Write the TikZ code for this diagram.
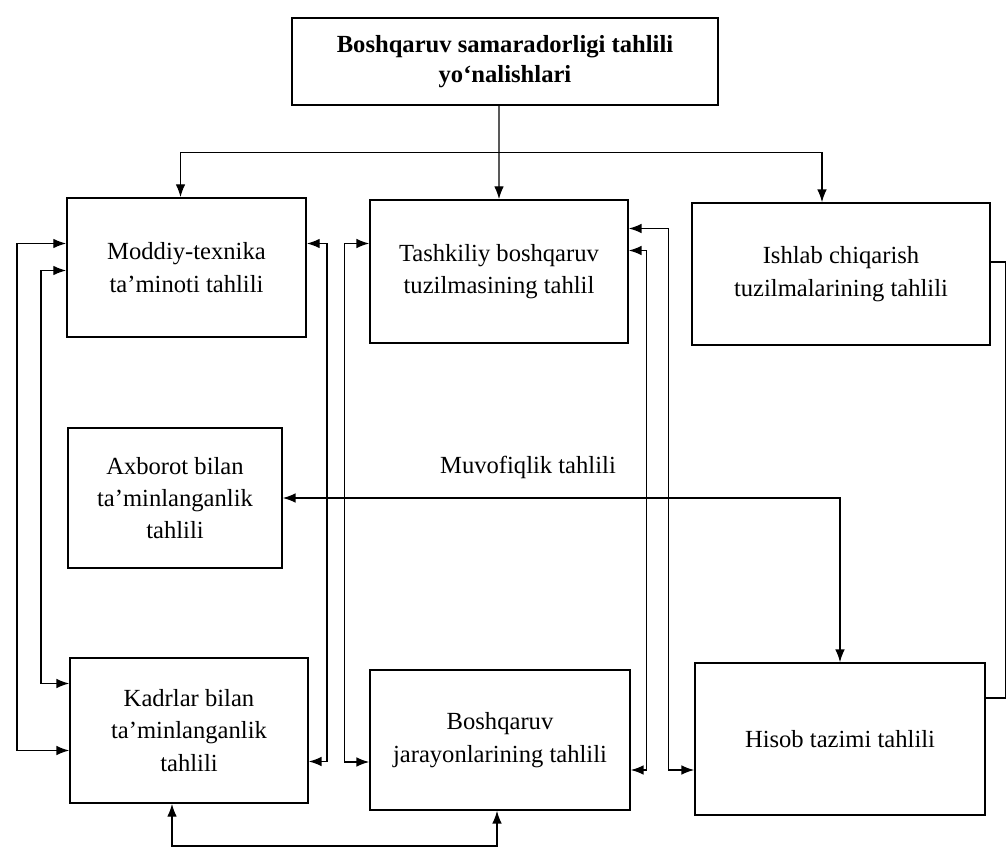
\documentclass[tikz,border=0pt]{standalone}
\usepackage{fontspec}
\setmainfont{Liberation Serif}
\usetikzlibrary{arrows.meta,positioning,calc}
\tikzset{
  tahlilbox/.style={draw, line width=1.1pt, align=center, inner sep=4pt, font=\fontsize{17.5}{23}\selectfont},
  tahlillabel/.style={font=\fontsize{17.5}{23}\selectfont},
  tahlilarrow/.style={-{Latex[length=3.2mm,width=2.4mm]}, line width=0.9pt},
  tahlildbl/.style={{Latex[length=3.2mm,width=2.4mm]}-{Latex[length=3.2mm,width=2.4mm]}, line width=0.9pt},
  tahlilline/.style={line width=0.9pt}
}

\begin{document}
\begin{tikzpicture}[x=0.025cm, y=-0.025cm]
\useasboundingbox (0,0) rectangle (1008,859);
\node[tahlilbox, minimum width=10.65cm, minimum height=2.18cm, font=\bfseries\fontsize{17.5}{21}\selectfont] (top) at (505,61.5) {Boshqaruv samaradorligi tahlili\\yo‘nalishlari};
\node[tahlilbox, minimum width=5.98cm, minimum height=3.48cm] (moddiy) at (186.5,267.5) {Moddiy-texnika\\ta’minoti tahlili};
\node[tahlilbox, minimum width=6.45cm, minimum height=3.58cm] (tash) at (499,271.5) {Tashkiliy boshqaruv\\tuzilmasining tahlil};
\node[tahlilbox, minimum width=7.45cm, minimum height=3.55cm] (ishlab) at (841,274) {Ishlab chiqarish\\tuzilmalarining tahlili};
\node[tahlilbox, minimum width=5.35cm, minimum height=3.5cm] (axborot) at (175,498) {Axborot bilan\\ta’minlanganlik\\tahlili};
\node[tahlilbox, minimum width=5.95cm, minimum height=3.63cm] (kadrlar) at (189,730.5) {Kadrlar bilan\\ta’minlanganlik\\tahlili};
\node[tahlilbox, minimum width=6.5cm, minimum height=3.5cm] (bjar) at (500,740) {Boshqaruv\\jarayonlarining tahlili};
\node[tahlilbox, minimum width=7.25cm, minimum height=3.8cm] (hisob) at (840,739) {Hisob tazimi tahlili};

% top distribution
\coordinate (split) at ($(top.south -| tash.north)!0.5!(tash.north)$);
\draw[tahlilline] (top.south -| tash.north) -- (split);
\draw[tahlilarrow] (split) -- (tash.north);
\draw[tahlilarrow] (split) -| ($(moddiy.north)+(-6,0)$);
\draw[tahlilarrow] (split) -| ($(ishlab.north)+(-19,0)$);

% left links
\draw[tahlildbl] ($(moddiy.west)+(0,-24)$) -- ++(-49,0) |- ($(kadrlar.west)+(0,20)$);
\draw[tahlildbl] ($(moddiy.west)+(0,3)$) -- ++(-25,0) |- ($(kadrlar.west)+(0,-47)$);
\draw[tahlildbl] ($(moddiy.east)+(0,-24)$) -- ++(20,0) |- ($(kadrlar.east)+(0,31)$);
\draw[tahlildbl] ($(tash.west)+(0,-28)$) -- ++(-25,0) |- ($(bjar.west)+(0,22)$);

% right links
\draw[tahlildbl] ($(tash.east)+(0,-43)$) -- ++(40,0) |- ($(hisob.west)+(0,31)$);
\draw[tahlildbl] ($(tash.east)+(0,-21)$) -- ++(18,0) |- ($(bjar.east)+(0,30)$);
\draw[tahlilline] ($(ishlab.east)+(0,-12)$) -- ++(15,0) |- ($(hisob.east)+(0,-41)$);

\draw[tahlildbl] (axborot.east) -| node[tahlillabel, pos=0.22, above=3.5mm] {Muvofiqlik tahlili} (hisob.north);
\draw[tahlildbl] ($(kadrlar.south)+(-17,0)$) -- ++(0,42) -| ($(bjar.south)+(-3,0)$);
\end{tikzpicture}
\end{document}
